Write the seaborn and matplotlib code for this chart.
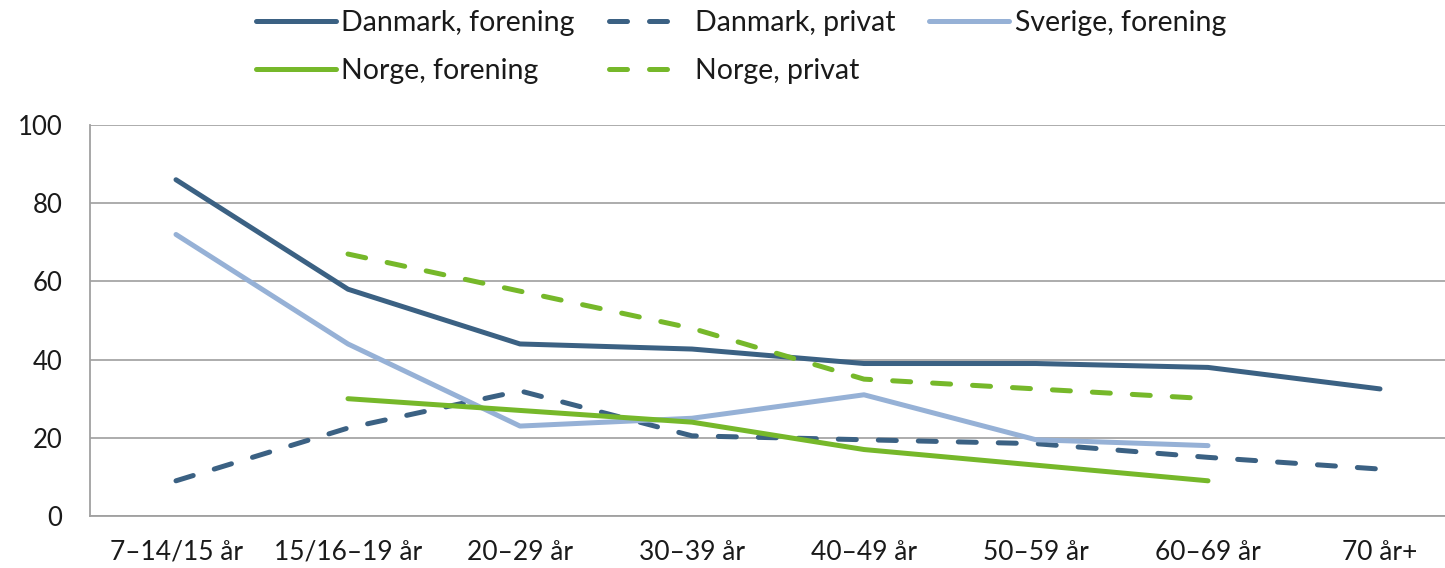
import numpy as np
import pandas as pd
import matplotlib.pyplot as plt
import seaborn as sns

# age groups on the x axis
age_groups = ['7–14/15 år', '15/16–19 år', '20–29 år', '30–39 år',
              '40–49 år', '50–59 år', '60–69 år', '70 år+']

# values (NaN = no value)
dk_forening = [86, 58, 44, 42.7, 39, 39, 38, 32.5]
dk_privat = [9, 22.5, 32, 20.5, 19.5, 18.5, 15, 12]
se_forening = [72, 44, 23, 25, 31, 19.5, 18, np.nan]
no_forening = [np.nan, 30, 27, 24, 17, 13, 9, np.nan]
no_privat = [np.nan, 67, 57.5, 48, 35, 32.5, 30, np.nan]

series = {
    'Danmark, forening': dk_forening,
    'Danmark, privat': dk_privat,
    'Sverige, forening': se_forening,
    'Norge, forening': no_forening,
    'Norge, privat': no_privat,
}
colors = {
    'Danmark, forening': '#3b6183',
    'Danmark, privat': '#3b6183',
    'Sverige, forening': '#96b1d6',
    'Norge, forening': '#76b82a',
    'Norge, privat': '#76b82a',
}
dashed = {'Danmark, privat', 'Norge, privat'}

sns.set_style('white')
plt.rcParams['font.family'] = ['Lato', 'DejaVu Sans']

fig = plt.figure(figsize=(14.45, 5.68), dpi=100)
ax = fig.add_axes([90 / 1445, 1 - 516 / 568, 1 - 90 / 1445, (516 - 125) / 568])

x = np.arange(len(age_groups))
for name, vals in series.items():
    df = pd.DataFrame({'x': x, 'y': vals}).dropna()
    sns.lineplot(data=df, x='x', y='y', ax=ax, color=colors[name], lw=3.6,
                 label=name, legend=False)
    line = ax.lines[-1]
    line.set_solid_capstyle('round')
    if name in dashed:
        line.set_dashes((3.6, 4.4))
        line.set_dash_capstyle('round')

ax.set_xlim(-0.5, (1445 - 176) / 172)
ax.set_ylim(0, 100)
ax.set_yticks(range(0, 101, 20))
ax.set_xticks(x)
ax.set_xticklabels(age_groups)
ax.set_xticks(np.arange(0.5, 7, 1), minor=True)
ax.tick_params(axis='x', which='major', length=0, pad=17, labelsize=19, colors='#1a1a1a')
ax.tick_params(axis='x', which='minor', length=8, width=1.3, color='#a0a0a0', direction='out')
ax.tick_params(axis='y', length=10, width=1.3, color='#a0a0a0', pad=10, labelsize=18.5, colors='#1a1a1a')
ax.set_xlabel('')
ax.set_ylabel('')
ax.grid(axis='y', color='#a6a6a6', lw=1.3)
ax.grid(axis='x', visible=False)
for s in ['top', 'right']:
    ax.spines[s].set_visible(False)
for s in ['left', 'bottom']:
    ax.spines[s].set_color('#a0a0a0')
    ax.spines[s].set_linewidth(1.3)

# legend, row-wise order with 3 columns
handles, labels = ax.get_legend_handles_labels()
order = [0, 3, 1, 4, 2]
leg = fig.legend([handles[i] for i in order], [labels[i] for i in order],
                 loc='center', bbox_to_anchor=(741 / 1445, 1 - 47 / 568),
                 ncol=3, frameon=False, fontsize=20.5, handlelength=2.8,
                 handletextpad=0.2, columnspacing=1.2, labelspacing=0.75,
                 borderpad=0)
for t in leg.get_texts():
    t.set_color('#1a1a1a')

fig.savefig('out.png', dpi=100)
